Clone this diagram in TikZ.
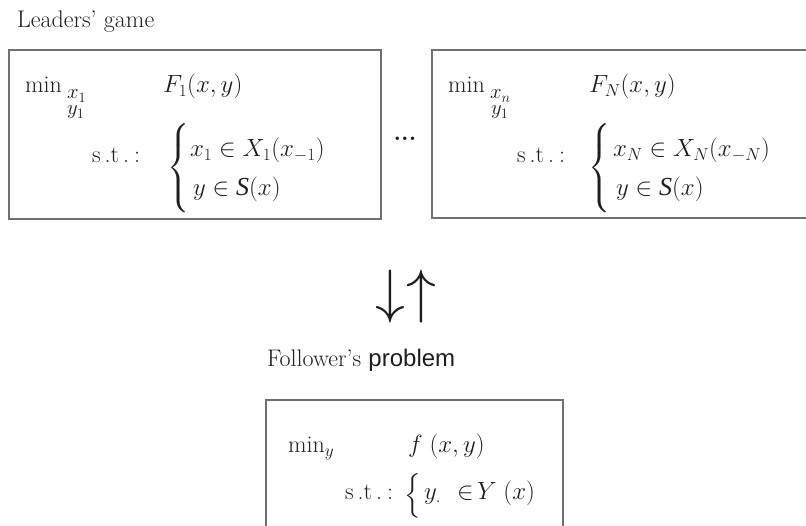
\documentclass[tikz,border=0pt]{standalone}
\usepackage{amsmath}
\usepackage{graphicx}
\usepackage{fontspec}
\newfontfamily\libsans{Liberation Sans}
\newfontfamily\libserif{Liberation Serif}
\definecolor{framegray}{HTML}{707070}
\definecolor{ink}{HTML}{1E1E1E}
\newcommand{\bigS}{\mbox{\libserif\itshape\fontsize{26}{30}\selectfont S}}
\newcommand{\stxt}{s\kern4pt.t\kern4pt.\kern5pt:}
\begin{document}
\begin{tikzpicture}[x=1pt,y=-1pt,
  every node/.style={inner sep=0pt, outer sep=0pt, font=\fontsize{24}{29}\selectfont, text=ink},
  frame/.style={draw=framegray, line width=1.5pt, fill=none, rectangle},
  lbl/.style={anchor=base west},
  subl/.style={anchor=base west, font=\fontsize{20.74}{25}\selectfont},
  arrowglyph/.style={anchor=center},
]
\useasboundingbox (0,0) rectangle (806,526);
\clip (0,0) rectangle (806,526);

% titles
\node[lbl] (t1) at (17,28) {Leaders' game};
\node[lbl] (t2) at (267,367) {Follower's {\libsans problem}};

% boxes
\node[frame, minimum width=372pt, minimum height=169pt] (L) at (195,134.5) {};
\node[frame, minimum width=400pt, minimum height=168pt] (R) at (632,134) {};
\node[frame, minimum width=297pt, minimum height=170pt] (B) at (414.5,485) {};

% left box content
\node[lbl] (Lmin) at (25,93) {$\min$};
\node[subl] (Lx) at (67,99) {$x_1$};
\node[subl] (Ly) at (67,115) {$y_1$};
\node[lbl] (LF) at (163,93) {$F_1(x,y)$};
\node[lbl] (Lst) at (92,163) {\stxt};
\node (Lbr) at (179,168) {$\left\{\vcenter{\hbox{\rule{0pt}{88pt}}}\right.$};
\node[lbl] (Lc1) at (190,157) {$x_1\in X_1(x_{-1})$};
\node[lbl] (Lc2) at (193,196) {$y\in\bigS(x)$};

% dots
\node[anchor=base] (dots) at (405,141) {\textbf{...}};

% right box content
\node[lbl] (Rmin) at (448,93) {$\min$};
\node[subl] (Rx) at (490,99) {$x_n$};
\node[subl] (Ry) at (491,115) {$y_1$};
\node[lbl] (RF) at (589,93) {$F_N(x,y)$};
\node[lbl] (Rst) at (517,163) {\stxt};
\node (Rbr) at (600,168) {$\left\{\vcenter{\hbox{\rule{0pt}{88pt}}}\right.$};
\node[lbl] (Rc1) at (613,157) {$x_N\in X_N(x_{-N})$};
\node[lbl] (Rc2) at (616,196) {$y\in\bigS(x)$};

% arrows
\node[arrowglyph] (down) at (390,297) {\scalebox{2.4}{$\downarrow$}};
\node[arrowglyph] (up) at (421,297) {\scalebox{2.4}{$\uparrow$}};

% bottom box content
\node[lbl] (Bmin) at (288,453) {$\min_y$};
\node[lbl] (Bf) at (408,453) {$f\;(x,y)$};
\node[lbl] (Bst) at (345,499) {\stxt};
\node (Bbr) at (413,496) {$\left\{\vcenter{\hbox{\rule{0pt}{36pt}}}\right.$};
\node[lbl] (By) at (424,499) {$y_{.}$};
\node[lbl] (Bin) at (457,499) {$\in$};
\node[lbl] (BY) at (477,499) {$Y\;(x)$};
\end{tikzpicture}
\end{document}
